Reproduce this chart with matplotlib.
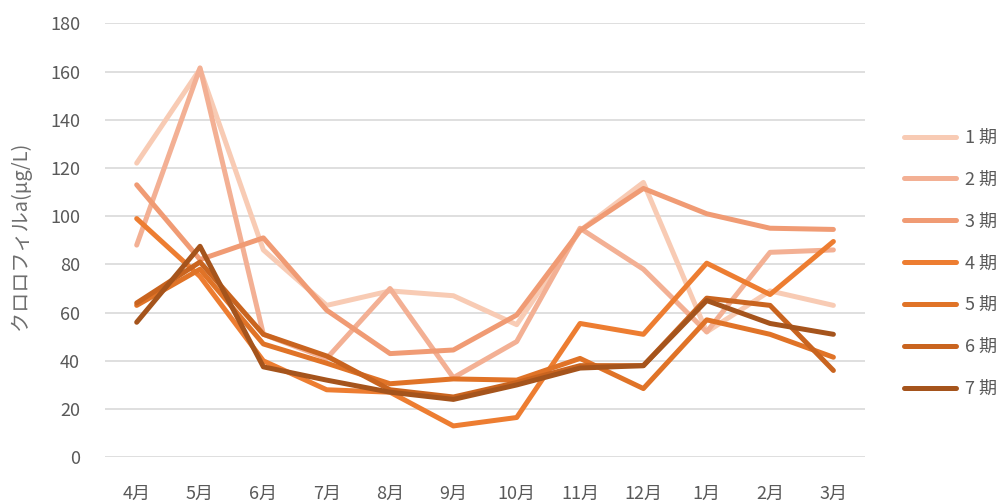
import matplotlib
matplotlib.use('agg')
import matplotlib.pyplot as plt

plt.rcParams['font.family'] = ['Noto Sans CJK JP', 'DejaVu Sans']

months = ['4月', '5月', '6月', '7月', '8月', '9月', '10月', '11月', '12月', '1月', '2月', '3月']
labels = ['1 期', '2 期', '3 期', '4 期', '5 期', '6 期', '7 期']

ki1 = [122, 161, 86, 63, 69, 67, 55, 94, 114, 52, 69, 63]
ki2 = [88, 161.5, 51, 41, 70, 33, 48, 95, 78, 52, 85, 86]
ki3 = [113, 82, 91, 61, 43, 44.5, 59, 94, 111.5, 101, 95, 94.5]
ki4 = [99, 75, 40, 28, 27, 13, 16.5, 55.5, 51, 80.5, 67.5, 89.5]
ki5 = [63, 78, 47, 39, 30.5, 32.5, 32, 41, 28.5, 57, 51, 41.5]
ki6 = [64, 81, 51, 42, 28, 25, 31, 38, 38, 66, 63, 36]
ki7 = [56, 87.5, 37.5, 32, 27, 24, 30, 37, 38, 65, 55.5, 51]

series = [ki1, ki2, ki3, ki4, ki5, ki6, ki7]
colors = ['#F8CBB4', '#F3B094', '#F09B74', '#ED7D31', '#E07327', '#C9641F', '#A5541C']

fig = plt.figure(figsize=(10.06, 5.03), dpi=100)
ax = fig.add_axes([0.1044, 0.0909, 0.7555, 0.8628])

x = range(len(months))
for vals, c, lab in zip(series, colors, labels):
    ax.plot(x, vals, color=c, linewidth=3.6, label=lab,
            solid_capstyle='round', solid_joinstyle='round')

ax.set_xlim(-0.5, len(months) - 0.5)
ax.set_ylim(0, 180)
ax.set_yticks(range(0, 181, 20))
ax.set_xticks(list(x))
ax.set_xticklabels(months)
ax.grid(axis='y', color='#D9D9D9', linewidth=1.2)
ax.set_axisbelow(True)
for s in ax.spines.values():
    s.set_visible(False)
ax.tick_params(axis='both', length=0, labelsize=13, colors='#595959')
ax.tick_params(axis='y', pad=18)
ax.tick_params(axis='x', pad=20)
ax.set_ylabel('クロロフィルa(μg/L)', fontsize=14.5, color='#6E6E6E')
ax.yaxis.set_label_coords(-0.097, 0.51)

leg = ax.legend(loc='upper left', bbox_to_anchor=(1.03, 0.794), frameon=False,
                fontsize=13, handlelength=2.9, labelspacing=1.32, handletextpad=0.5)
for t in leg.get_texts():
    t.set_color('#595959')

plt.savefig('out.png', dpi=100)
